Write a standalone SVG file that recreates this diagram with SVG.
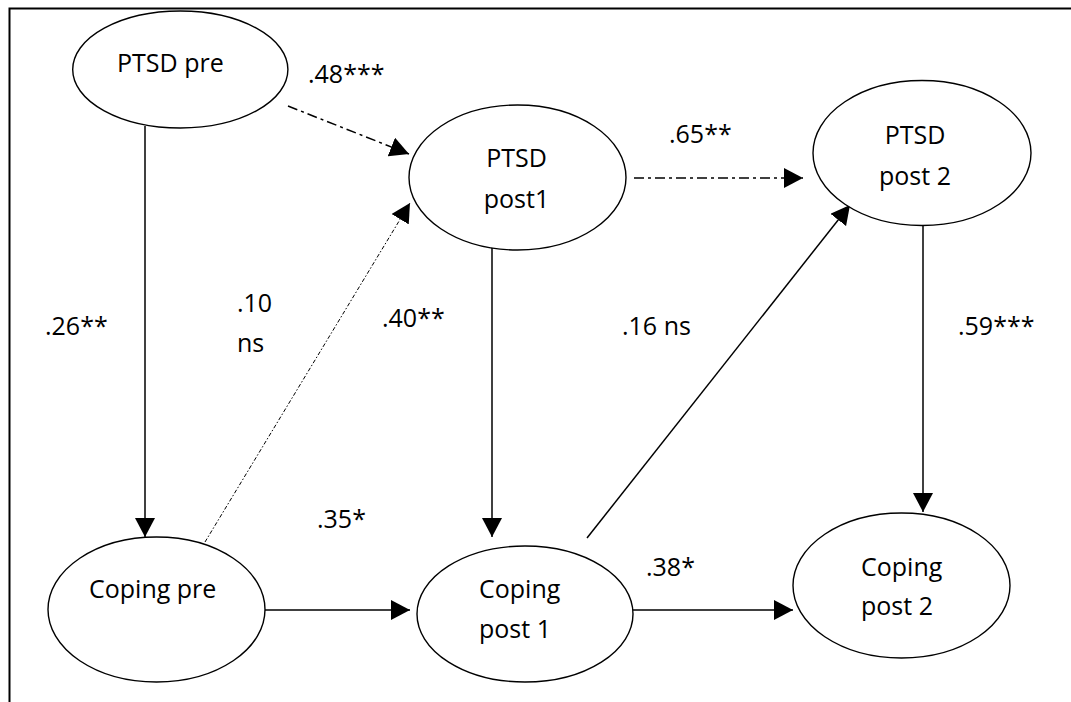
<svg xmlns="http://www.w3.org/2000/svg" width="1071" height="702" viewBox="0 0 1071 702">
<style>
.node{fill:#fff;stroke:#000;stroke-width:1.4}
.t{font-family:"Open Sans","Noto Sans",sans-serif;font-size:25px;fill:#000}
.c{fill:none;stroke:#000;stroke-width:1.5}
.dd{stroke-dasharray:10 4 3 4}
.dot{stroke-width:1;stroke-dasharray:4 2 1.5 2}
</style>
<defs>
<marker id="ah" viewBox="0 0 19 20" markerWidth="19" markerHeight="20" refX="19" refY="10" orient="auto" markerUnits="userSpaceOnUse">
<path d="M0,0 L19,10 L0,20 z" fill="#000"/>
</marker>
</defs>
<rect width="1071" height="702" fill="#fff"/>
<path d="M1071 8.5 H9.5 V702" fill="none" stroke="#000" stroke-width="2"/>
<g id="connectors">
<line class="c" x1="145" y1="126" x2="145" y2="537" marker-end="url(#ah)"/>
<line class="c dd" x1="288" y1="106" x2="409" y2="154" marker-end="url(#ah)"/>
<line class="c dd" x1="634" y1="178" x2="803" y2="178" marker-end="url(#ah)"/>
<line class="c dot" x1="205" y1="542" x2="410" y2="203" marker-end="url(#ah)"/>
<line class="c" x1="492" y1="240" x2="492" y2="537" marker-end="url(#ah)"/>
<line class="c" x1="587" y1="538" x2="850" y2="205" marker-end="url(#ah)"/>
<line class="c" x1="923" y1="226" x2="923" y2="512" marker-end="url(#ah)"/>
<line class="c" x1="265" y1="610" x2="410" y2="610" marker-end="url(#ah)"/>
<line class="c" x1="633" y1="610" x2="793" y2="610" marker-end="url(#ah)"/>
</g>
<g id="labels" class="t">
<text x="308" y="83">.48***</text>
<text x="669" y="143">.65**</text>
<text x="45" y="335">.26**</text>
<text x="237" y="312">.10</text>
<text x="237" y="352">ns</text>
<text x="382" y="327">.40**</text>
<text x="622" y="335">.16 ns</text>
<text x="958" y="335">.59***</text>
<text x="317" y="528">.35*</text>
<text x="646" y="576">.38*</text>
</g>
<g id="ptsd-pre">
<ellipse class="node" cx="180.3" cy="69.5" rx="107.6" ry="58.5"/>
<text class="t" x="117" y="72">PTSD pre</text>
</g>
<g id="ptsd-post1">
<ellipse class="node" cx="517.5" cy="177.5" rx="108.5" ry="72.5"/>
<text class="t" x="516.5" y="167" text-anchor="middle">PTSD</text>
<text class="t" x="516.5" y="208" text-anchor="middle">post1</text>
</g>
<g id="ptsd-post2">
<ellipse class="node" cx="922" cy="153" rx="109" ry="72.5"/>
<text class="t" x="915" y="144" text-anchor="middle">PTSD</text>
<text class="t" x="915" y="185" text-anchor="middle">post 2</text>
</g>
<g id="coping-pre">
<ellipse class="node" cx="156.5" cy="609.5" rx="108.5" ry="72.5"/>
<text class="t" x="89" y="598">Coping pre</text>
</g>
<g id="coping-post1">
<ellipse class="node" cx="525" cy="614" rx="108" ry="68"/>
<text class="t" x="479" y="598">Coping</text>
<text class="t" x="479" y="638">post 1</text>
</g>
<g id="coping-post2">
<ellipse class="node" cx="901.5" cy="585.5" rx="108.5" ry="72.5"/>
<text class="t" x="861" y="576">Coping</text>
<text class="t" x="861" y="615">post 2</text>
</g>
</svg>
